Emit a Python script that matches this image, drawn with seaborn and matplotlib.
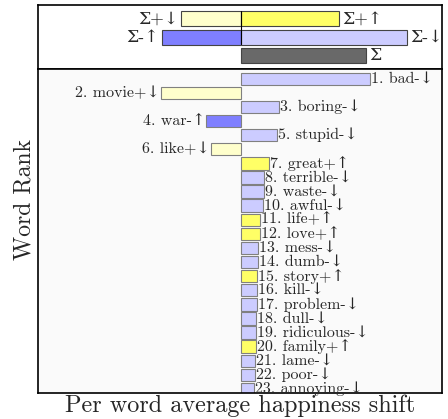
import pandas as pd
import seaborn as sns
import matplotlib.pyplot as plt

# word shift data
words = ['bad', 'movie', 'boring', 'war', 'stupid', 'like', 'great', 'terrible',
         'waste', 'awful', 'life', 'love', 'mess', 'dumb', 'story', 'kill',
         'problem', 'dull', 'ridiculous', 'family', 'lame', 'poor', 'annoying']
kinds = ['-↓', '+↓', '-↓', '-↑', '-↓', '+↓', '+↑', '-↓', '-↓', '-↓', '+↑', '+↑',
         '-↓', '-↓', '+↑', '-↓', '-↓', '-↓', '-↓', '+↑', '-↓', '-↓', '-↓']
shifts = [1.29, -0.80, 0.38, -0.35, 0.36, -0.30, 0.28, 0.23, 0.23, 0.225, 0.19,
          0.187, 0.17, 0.17, 0.163, 0.157, 0.156, 0.155, 0.153, 0.15, 0.145,
          0.14, 0.135]

# summary bars
sum_rows = ['pos', 'pos', 'neg', 'neg', 'total']
sum_kinds = ['+↓', '+↑', '-↑', '-↓', 'tot']
sum_values = [-0.60, 0.98, -0.79, 1.66, 1.25]
sum_labels = ['Σ+↓', 'Σ+↑', 'Σ-↑', 'Σ-↓', 'Σ']

colors = {'+↑': '#ffff66', '+↓': '#ffffcc', '-↑': '#7f7fff', '-↓': '#ccccff',
          'tot': '#696969'}

sns.set_style('white')
plt.rcParams['font.family'] = ['cmr10', 'DejaVu Serif']
plt.rcParams['axes.unicode_minus'] = False
plt.rcParams['axes.formatter.use_mathtext'] = True

fig = plt.figure(figsize=(4.48, 4.19), dpi=100)
ax_top = fig.add_axes([0.0848, 0.836, 0.9018, 0.1527])
ax = fig.add_axes([0.0848, 0.0613, 0.9018, 0.7747])
xlim = (-2.03, 2.01)

# top summary panel
top = pd.DataFrame({'row': sum_rows, 'kind': sum_kinds, 'value': sum_values})
sns.barplot(data=top, x='value', y='row', hue='kind', palette=colors,
            saturation=1, dodge=False, orient='h', width=0.81, errorbar=None,
            legend=False, edgecolor='#444444', linewidth=0.8, ax=ax_top)
ax_top.plot([0, 0], [-0.4, 1.4], color='black', lw=0.8)
row_pos = {'pos': 0, 'neg': 1, 'total': 2}
for r, v, lab in zip(sum_rows, sum_values, sum_labels):
    pad = 0.03
    if v >= 0:
        ax_top.text(v + pad, row_pos[r], lab, ha='left', va='center', fontsize=12.5)
    else:
        ax_top.text(v - pad, row_pos[r], lab, ha='right', va='center', fontsize=12.5)
ax_top.set_xlim(*xlim)
ax_top.set_ylim(2.71, -0.746)

# word panel
labels = [f'{i + 1}. {w}{k}' for i, (w, k) in enumerate(zip(words, kinds))]
df = pd.DataFrame({'label': labels, 'kind': kinds, 'shift': shifts})
sns.barplot(data=df, x='shift', y='label', hue='kind', palette=colors,
            saturation=1, dodge=False, orient='h', width=0.88, errorbar=None,
            legend=False, edgecolor='#808080', linewidth=0.8, ax=ax)
for i, (lab, v) in enumerate(zip(labels, shifts)):
    if v >= 0:
        ax.text(v + 0.01, i, lab, ha='left', va='center', fontsize=11.5)
    else:
        ax.text(v - 0.01, i, lab, ha='right', va='center', fontsize=11.5)
ax.set_xlim(*xlim)
ax.set_ylim(22.31, -0.71)
ax.set_facecolor('#fafafa')

for a in (ax_top, ax):
    a.set_xticks([])
    a.set_yticks([])
    a.set_xlabel('')
    a.set_ylabel('')
    for s in a.spines.values():
        s.set_visible(True)
        s.set_color('black')
        s.set_linewidth(1.2)

fig.text(0.054, 0.525, 'Word Rank', rotation=90, ha='center', va='center',
         fontsize=17)
fig.text(0.536, 0.031, 'Per word average happiness shift', ha='center',
         va='center', fontsize=17.5)

fig.savefig('out.png', dpi=100)
